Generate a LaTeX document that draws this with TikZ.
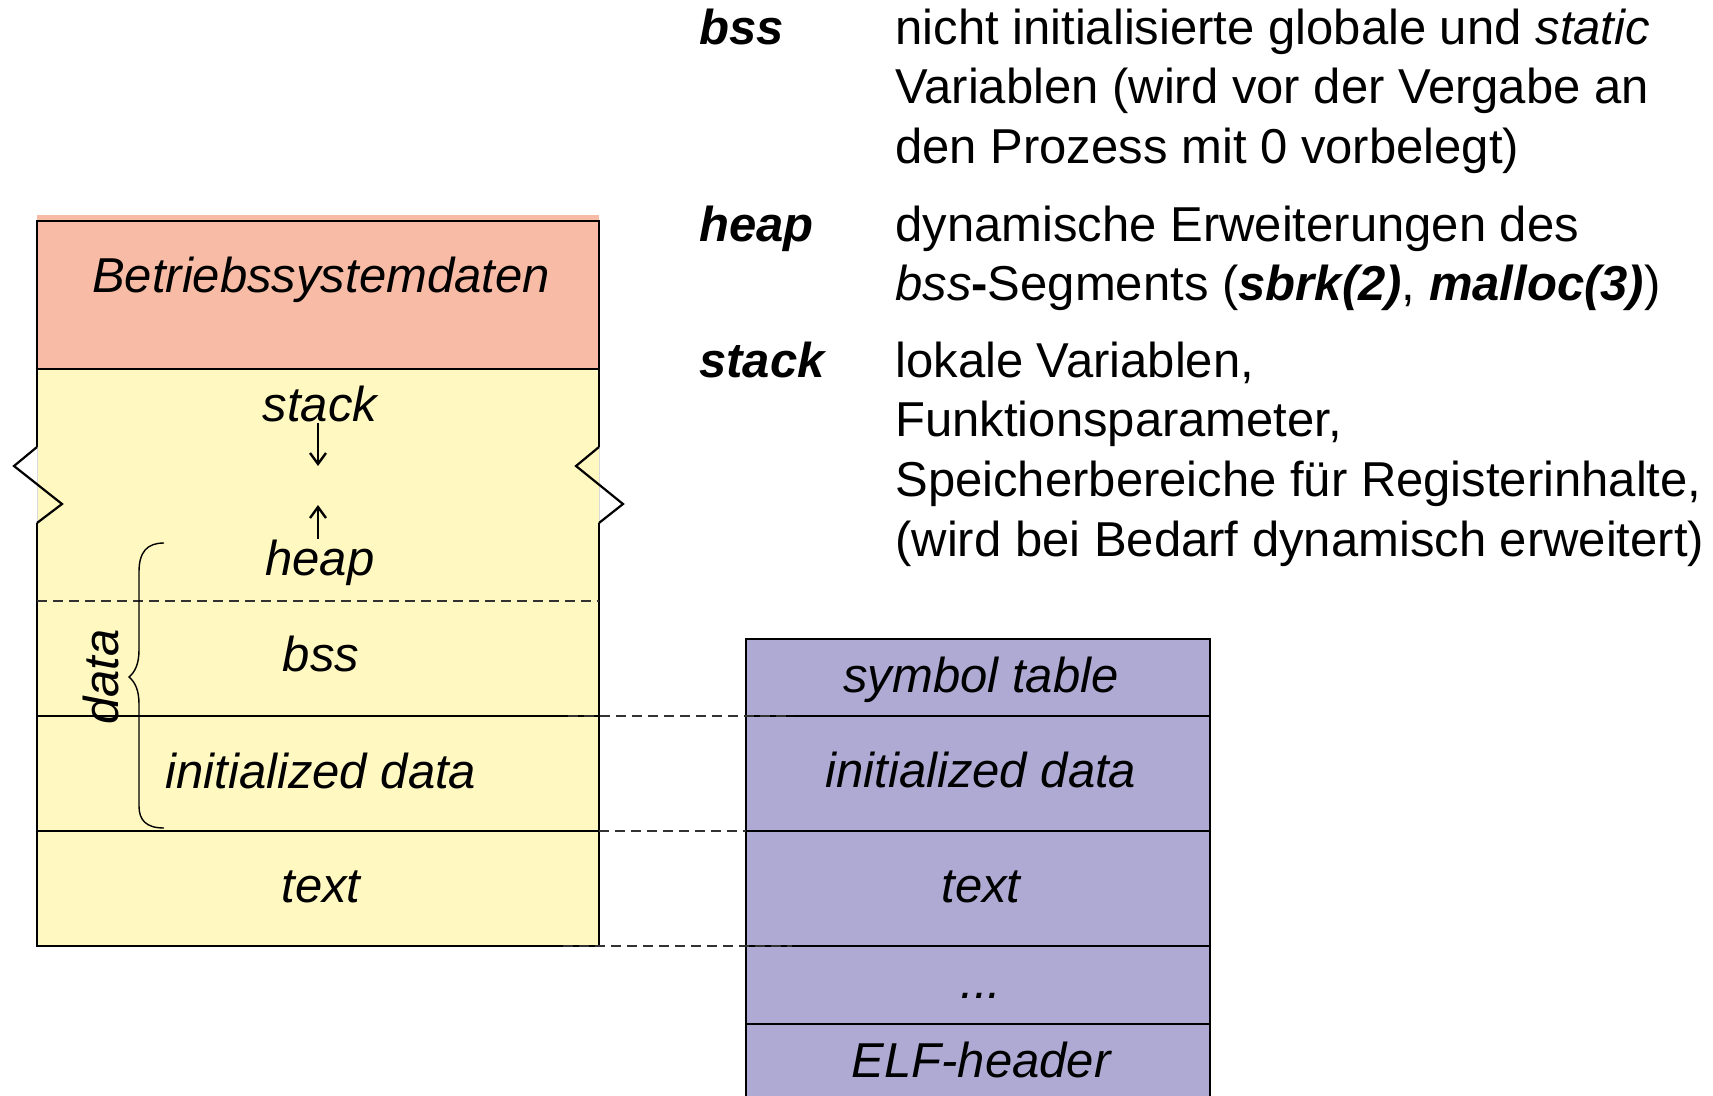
\documentclass[tikz,border=0pt]{standalone}
\usepackage{fontspec}
\setmainfont{Liberation Sans}
\usetikzlibrary{arrows.meta}
\definecolor{osred}{RGB}{248,188,166}
\definecolor{memyellow}{RGB}{255,248,192}
\definecolor{elfpurple}{RGB}{174,170,212}
\definecolor{dashgray}{RGB}{50,50,50}
\tikzset{
 lbl/.style={inner sep=0pt, font=\fontsize{24.5}{29.75}\selectfont\itshape, anchor=base},
 desc/.style={inner sep=0pt, font=\fontsize{24.5}{29.75}\selectfont, anchor=base west},
 term/.style={inner sep=0pt, font=\fontsize{24.5}{29.75}\selectfont\bfseries\itshape, anchor=base west},
 border/.style={line width=1.1pt, draw=black},
 conn/.style={draw=dashgray, line width=1pt, dash pattern=on 5pt off 3pt},
 growarrow/.style={line width=1.2pt, -{Straight Barb[length=5.5pt,width=8pt]}},
}
\begin{document}
\begin{tikzpicture}[x=0.5pt,y=-0.5pt]
\useasboundingbox (0,0) rectangle (1713,1096);
% ---- left box (process memory image)
\fill[osred] (37,215) rectangle (599,369);
\fill[memyellow] (37,369) rectangle (599,946);
\draw[border] (37,447) -- (37,221) -- (599,221) -- (599,447);
\draw[border] (37,523) -- (37,946) -- (599,946) -- (599,523);
\draw[border] (37,369) -- (599,369);
\draw[border] (37,716) -- (599,716);
\draw[border] (37,831) -- (599,831);
\draw[black!15, line width=0.4pt] (37,447) -- (37,523) (599,447) -- (599,523);
\draw[line width=1.1pt] (37,447) -- (14,466) -- (62,504) -- (37,523);
\draw[line width=1.1pt] (599,447) -- (576,466) -- (623,504) -- (599,523);
\draw[conn] (37,601) -- (599,601);
% ---- right box (ELF file)
\fill[elfpurple] (746,639) rectangle (1210,1110);
\draw[border] (746,1110) -- (746,639) -- (1210,639) -- (1210,1110);
\draw[border] (746,716) -- (1210,716);
\draw[border] (746,831) -- (1210,831);
\draw[border] (746,946) -- (1210,946);
\draw[border] (746,1024) -- (1210,1024);
% ---- brace
\draw[line width=0.7pt] (164,543) .. controls (147,543) and (139,552) .. (139,572) -- (139,650)
  .. controls (139,664) and (135,672) .. (129,677) .. controls (135,682) and (139,690) .. (139,704)
  -- (139,806) .. controls (139,820) and (146,828) .. (164,828);
% ---- left labels
\node[lbl] (os) at (321,293) {Betriebssystemdaten};
\node[lbl] (stk) at (320,422) {stack};
\node[lbl] (hp) at (320,575) {heap};
\node[lbl] (lbss) at (321,671) {bss};
\node[lbl] (linit) at (321,788) {initialized data};
\node[lbl] (ltext) at (321,902) {text};
\node[lbl, anchor=center, rotate=90] (data) at (101,677) {data};
\coordinate (stkend) at (318,466);
\coordinate (hpend) at (318,505);
\draw[growarrow] (stk.south -| stkend) -- (stkend);
\draw[growarrow] (hp.north -| hpend) -- (hpend);
% ---- right labels
\node[lbl] (sym) at (981,692) {symbol table};
\node[lbl] (rinit) at (981,787) {initialized data};
\node[lbl] (rtext) at (981,902) {text};
\node[lbl] (dots) at (981,998) {...};
\node[lbl] (elf) at (981,1077) {ELF-header};
% ---- dashed connectors
\coordinate (l1) at (568,716); \coordinate (r1) at (792,716);
\coordinate (l2) at (599,831); \coordinate (r2) at (746,831);
\coordinate (l3) at (563,946); \coordinate (r3) at (792,946);
\draw[conn] (l1) -- (r1);
\draw[conn] (l2) -- (r2);
\draw[conn] (l3) -- (r3);
% ---- description
\node[term] (tbss) at (699,44.5) {bss};
\node[desc] (dbssa) at (895,44.5) {nicht initialisierte globale und \textit{static}};
\node[desc] (dbssb) at (895,104) {Variablen (wird vor der Vergabe an};
\node[desc] (dbssc) at (895,163.5) {den Prozess mit 0 vorbelegt)};
\node[term] (theap) at (699,241.5) {heap};
\node[desc] (dheapa) at (895,241.5) {dynamische Erweiterungen des};
\node[desc] (dheapb) at (895,301) {\textit{bss}\textbf{-}Segments (\textbf{\textit{sbrk(2)}}, \textbf{\textit{malloc(3)}})};
\node[term] (tstack) at (699,378) {stack};
\node[desc] (dstacka) at (895,378) {lokale Variablen,};
\node[desc] (dstackb) at (895,437) {Funktionsparameter,};
\node[desc] (dstackc) at (895,496.5) {Speicherbereiche für Registerinhalte,};
\node[desc] (dstackd) at (895,556) {(wird bei Bedarf dynamisch erweitert)};
\end{tikzpicture}
\end{document}
